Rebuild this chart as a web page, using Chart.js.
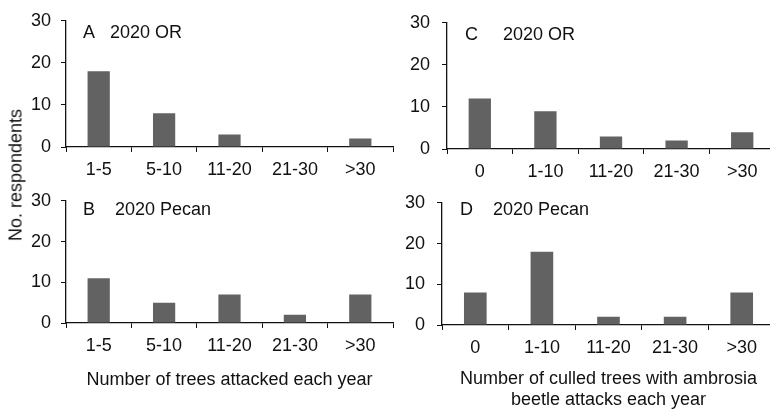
<!DOCTYPE html>
<html><head><meta charset="utf-8">
<script src="https://cdn.jsdelivr.net/npm/chart.js@4/dist/chart.umd.min.js"></script>
<style>
html,body{margin:0;padding:0;background:#fff;overflow:hidden;width:770px;height:410px;}
.c{position:absolute;}
#ytitle{position:absolute;left:16px;top:175px;transform:translate(-50%,-50%) rotate(-90deg);font:18px "Liberation Sans",Arial,sans-serif;color:#111;white-space:nowrap;}
</style></head><body>
<div class="c" style="left:0;top:0;width:400px;height:180px"><canvas id="cA"></canvas></div>
<div class="c" style="left:0;top:180px;width:400px;height:230px"><canvas id="cB"></canvas></div>
<div class="c" style="left:385px;top:0;width:390px;height:180px"><canvas id="cC"></canvas></div>
<div class="c" style="left:385px;top:180px;width:390px;height:235px"><canvas id="cD"></canvas></div>
<div id="ytitle">No. respondents</div>
<script>
const attackedCategories = ["1-5","5-10","11-20","21-30",">30"];
const culledCategories = ["0","1-10","11-20","21-30",">30"];
const orAttacked = [18, 8, 3, 0, 2];
const pecanAttacked = [11, 5, 7, 2, 7];
const orCulled = [12, 9, 3, 2, 4];
const pecanCulled = [8, 18, 2, 2, 8];
const yTicks = [0, 10, 20, 30];
const panelLabels = ["A   2020 OR", "B    2020 Pecan", "C     2020 OR", "D    2020 Pecan"];
const xTitleLeft = "Number of trees attacked each year";
const xTitleRight = ["Number of culled trees with ambrosia", "beetle attacks each year"];

const FONT = '"Liberation Sans", Arial, sans-serif';
Chart.defaults.font.family = FONT;
Chart.defaults.color = '#111';

const labelPlugin = {
  id: 'panelLabel',
  afterDraw(chart, args, opts) {
    const ctx = chart.ctx, a = chart.chartArea;
    ctx.save();
    ctx.font = '18px ' + FONT;
    ctx.fillStyle = '#111';
    ctx.textBaseline = 'middle';
    ctx.fillText(opts.text, a.left + opts.dx, a.top + opts.dy);
    ctx.restore();
  }
};

function make(id, cats, vals, label, cfg) {
  new Chart(document.getElementById(id), {
    type: 'bar',
    data: { labels: cats, datasets: [{ data: vals, backgroundColor: '#626262', borderWidth: 0,
      categoryPercentage: 1, barPercentage: 0.34 }] },
    options: {
      responsive: true, maintainAspectRatio: false, animation: false,
      layout: { padding: { top: cfg.top, right: cfg.right, left: 0, bottom: cfg.bottom || 0 } },
      plugins: { legend: { display: false }, tooltip: { enabled: false },
        panelLabel: { text: label, dx: cfg.ldx, dy: cfg.ldy } },
      scales: {
        x: {
          grid: { display: true, drawOnChartArea: false, drawTicks: true, tickLength: 5, color: '#111', lineWidth: 1, offset: true },
          border: { display: true, color: '#111', width: 1.3 },
          ticks: { font: { size: 18 }, color: '#111', padding: 7, maxRotation: 0 },
          title: cfg.xtitle ? { display: true, text: cfg.xtitle, font: { size: 18 }, color: '#111', padding: { top: 10 } } : { display: false },
          afterFit: s => { s.height = cfg.xh; }
        },
        y: {
          min: 0, max: 30,
          afterBuildTicks: s => { s.ticks = yTicks.map(v => ({ value: v })); },
          grid: { display: true, drawOnChartArea: false, drawTicks: true, tickLength: 5, color: '#111' },
          border: { display: true, color: '#111', width: 1.3 },
          ticks: { font: { size: 18 }, color: '#111', padding: cfg.yp },
          afterFit: s => { s.width = cfg.yw; }
        }
      }
    },
    plugins: [labelPlugin]
  });
}

make('cA', attackedCategories, orAttacked, panelLabels[0], { top: 16, right: 7, xh: 33, yw: 66, yp: 10, ldx: 17, ldy: 12 });
make('cB', attackedCategories, pecanAttacked, panelLabels[1], { top: 13, right: 7, bottom: 15, xh: 72, yw: 66, yp: 10, ldx: 17, ldy: 9, xtitle: xTitleLeft });
make('cC', culledCategories, orCulled, panelLabels[2], { top: 17, right: 0, xh: 31, yw: 62, yp: 12, ldx: 18, ldy: 12 });
make('cD', culledCategories, pecanCulled, panelLabels[3], { top: 13, right: 0, xh: 90, yw: 57, yp: 12, ldx: 18, ldy: 7, xtitle: xTitleRight });
</script>
</body></html>
